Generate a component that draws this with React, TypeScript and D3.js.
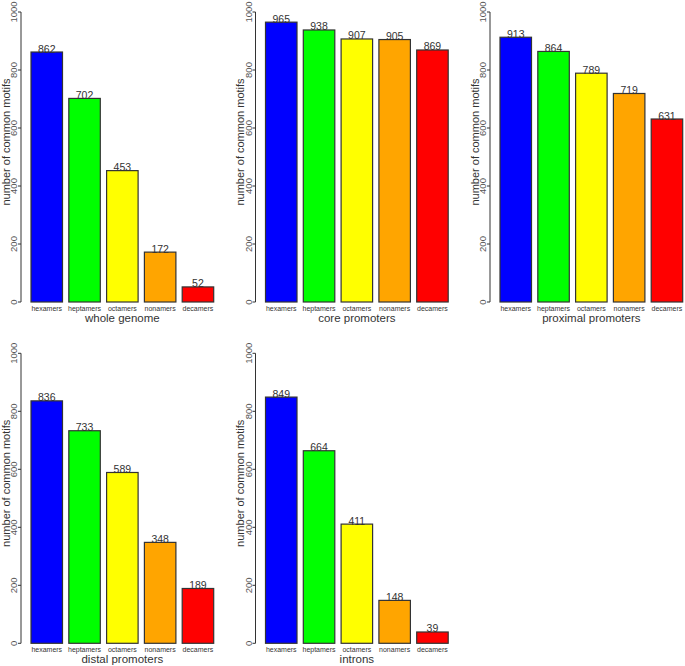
import { useEffect, useRef } from 'react';
import * as d3 from 'd3';

const width = 685;
const height = 666;

// data
const categories = ['hexamers', 'heptamers', 'octamers', 'nonamers', 'decamers'];
const barColors = ['#0000ff', '#00ff00', '#ffff00', '#ffa500', '#ff0000'];
const yTicks = [0, 200, 400, 600, 800, 1000];

const wholeGenome = [862, 702, 453, 172, 52];
const corePromoters = [965, 938, 907, 905, 869];
const proximalPromoters = [913, 864, 789, 719, 631];
const distalPromoters = [836, 733, 589, 348, 189];
const introns = [849, 664, 411, 148, 39];

const panels = [
    { title: 'whole genome', values: wholeGenome, col: 0, row: 0 },
    { title: 'core promoters', values: corePromoters, col: 1, row: 0 },
    { title: 'proximal promoters', values: proximalPromoters, col: 2, row: 0 },
    { title: 'distal promoters', values: distalPromoters, col: 0, row: 1 },
    { title: 'introns', values: introns, col: 1, row: 1 }
];

// layout of the panel grid
const axisXs = [21, 255.5, 490];
const topYs = [12, 353.3];
const plotH = 290;

function App() {
    const ref = useRef<SVGSVGElement>(null);

    useEffect(() => {
        const svg = d3.select(ref.current);
        svg.selectAll('*').remove();
        const font = 'Liberation Sans, Arial, sans-serif';

        panels.forEach((p) => {
            const ax = axisXs[p.col];
            const top = topYs[p.row];
            const g = svg.append('g').attr('font-family', font);

            const y = d3.scaleLinear().domain([0, 1000]).range([top + plotH, top]);
            const x = d3
                .scaleBand()
                .domain(categories)
                .range([ax + 6.85, ax + 6.85 + 189])
                .paddingInner(1 / 6)
                .paddingOuter(1 / 12);

            // y axis
            g.append('line')
                .attr('x1', ax)
                .attr('x2', ax)
                .attr('y1', y(0))
                .attr('y2', y(1000))
                .attr('stroke', '#333')
                .attr('stroke-width', 1);

            g.selectAll('.tick')
                .data(yTicks)
                .join('line')
                .attr('x1', ax - 3)
                .attr('x2', ax)
                .attr('y1', (d) => y(d))
                .attr('y2', (d) => y(d))
                .attr('stroke', '#333');

            g.selectAll('.ytl')
                .data(yTicks)
                .join('text')
                .attr('transform', (d) => `translate(${ax - 4},${y(d)}) rotate(-90)`)
                .attr('text-anchor', 'middle')
                .attr('font-size', 9.5)
                .attr('fill', '#555')
                .text((d) => d);

            g.append('text')
                .attr('transform', `translate(${ax - 11.5},${top + plotH / 2 - 15}) rotate(-90)`)
                .attr('text-anchor', 'middle')
                .attr('font-size', 11)
                .attr('fill', '#333')
                .text('number of common motifs');

            // bars
            g.selectAll('rect')
                .data(p.values)
                .join('rect')
                .attr('x', (_, i) => x(categories[i]) as number)
                .attr('y', (d) => y(d))
                .attr('width', x.bandwidth())
                .attr('height', (d) => y(0) - y(d))
                .attr('fill', (_, i) => barColors[i])
                .attr('stroke', '#333')
                .attr('stroke-width', 1.2);

            // value labels
            g.selectAll('.val')
                .data(p.values)
                .join('text')
                .attr('x', (_, i) => (x(categories[i]) as number) + x.bandwidth() / 2)
                .attr('y', (d) => y(d) + 0.5)
                .attr('text-anchor', 'middle')
                .attr('font-size', 10.5)
                .attr('fill', '#333')
                .text((d) => d);

            // category labels
            g.selectAll('.cat')
                .data(categories)
                .join('text')
                .attr('x', (d) => (x(d) as number) + x.bandwidth() / 2)
                .attr('y', y(0) + 9)
                .attr('text-anchor', 'middle')
                .attr('font-size', 7)
                .attr('fill', '#333')
                .text((d) => d);

            // panel title
            g.append('text')
                .attr('x', ax + 6.85 + 189 / 2)
                .attr('y', y(0) + 19.5)
                .attr('text-anchor', 'middle')
                .attr('font-size', 11.5)
                .attr('fill', '#333')
                .text(p.title);
        });
    }, []);

    return (
        <svg
            ref={ref}
            width={width}
            height={height}
            style={{ position: 'absolute', left: 0, top: 0, background: '#fff' }}
        />
    );
}

export default App;
